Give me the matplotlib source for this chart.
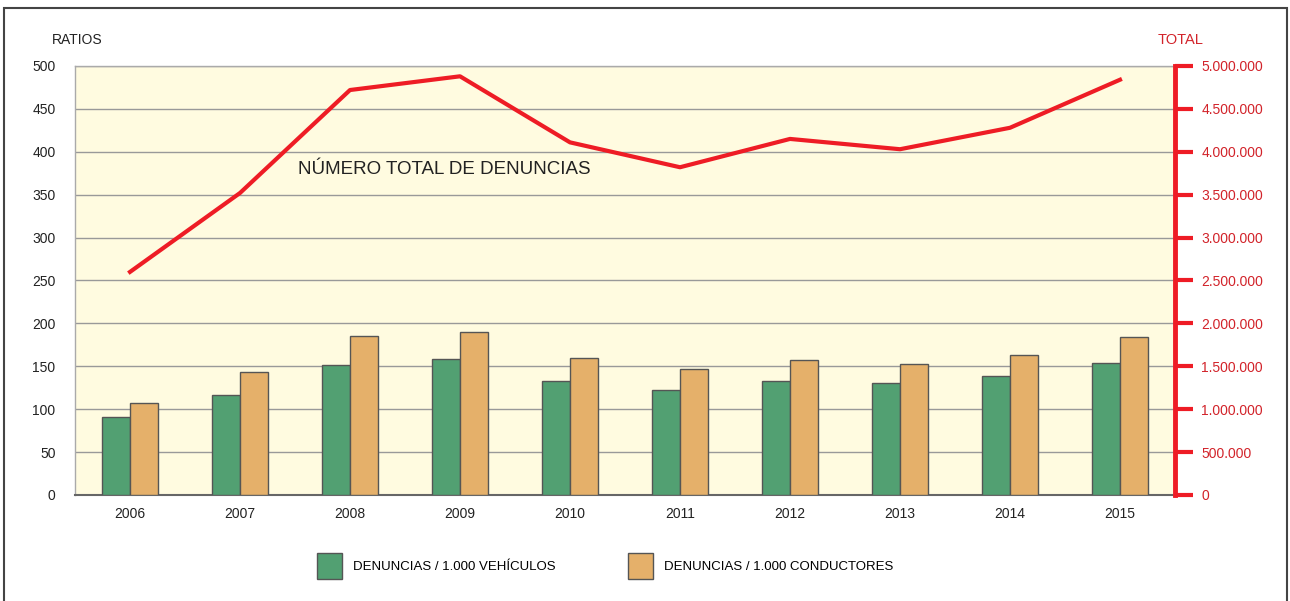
import matplotlib
matplotlib.use("Agg")
import matplotlib.pyplot as plt
import matplotlib.patches as mpatches
import numpy as np

plt.rcParams['font.family'] = ['Liberation Sans', 'DejaVu Sans']

years = ["2006", "2007", "2008", "2009", "2010", "2011", "2012", "2013", "2014", "2015"]
por_vehiculos = [91, 116, 152, 158, 133, 122, 133, 130, 139, 154]
por_conductores = [107, 143, 185, 190, 160, 147, 157, 153, 163, 184]
total_denuncias = [2600000, 3520000, 4720000, 4880000, 4110000, 3820000, 4150000, 4030000, 4280000, 4840000]

green = "#52A072"
orange = "#E5B06A"
red = "#EE1C25"
red_txt = "#D2232A"

fig = plt.figure(figsize=(12.9, 6.01), dpi=100)
# outer frame, open at the bottom edge
fig.patches.append(mpatches.Rectangle((4/1290, -0.05), 1283/1290, 0.05 + 593/601, transform=fig.transFigure,
                                      fill=False, edgecolor="#444444", linewidth=1.5))

ax = fig.add_axes([75/1290, 106/601, 1100/1290, 429/601])
ax.set_facecolor("#FFFBE0")
x = np.arange(len(years))
w = 0.255
ax.bar(x - w/2, por_vehiculos, w, color=green, edgecolor="#555555", linewidth=1, zorder=3)
ax.bar(x + w/2, por_conductores, w, color=orange, edgecolor="#555555", linewidth=1, zorder=3)
ax.set_xlim(-0.5, len(years) - 0.5)
ax.set_ylim(0, 500)
ax.set_yticks(range(0, 501, 50))
ax.set_xticks(x)
ax.set_xticklabels(years)
ax.grid(axis="y", color="#999999", linewidth=1, zorder=0)
ax.tick_params(axis="both", length=0, labelsize=10, colors="#222222")
ax.tick_params(axis="x", pad=9)
ax.tick_params(axis="y", pad=14)
for s in ["top", "left"]:
    ax.spines[s].set_color("#aaaaaa")
    ax.spines[s].set_linewidth(1)
ax.spines["right"].set_visible(False)
ax.spines["bottom"].set_color("#666666")
ax.spines["bottom"].set_linewidth(1.5)

ax2 = ax.twinx()
ax2.plot(x, total_denuncias, color=red, linewidth=3, zorder=4)
ax2.set_ylim(0, 5000000)
ax2.set_yticks(range(0, 5000001, 500000))
ax2.set_yticklabels(["0"] + [f"{v:,}".replace(",", ".") for v in range(500000, 5000001, 500000)])
for s in ["top", "left", "bottom"]:
    ax2.spines[s].set_visible(False)
ax2.spines["right"].set_color(red)
ax2.spines["right"].set_linewidth(3.5)
ax2.tick_params(axis="y", colors=red, direction="out", length=13, width=3, labelsize=10,
                labelcolor=red_txt, pad=6)

fig.text(298/1290, 1 - 170/601, "NÚMERO TOTAL DE DENUNCIAS",
         fontsize=13.5, color="#222222", ha="left", va="center")
fig.text(52/1290, 1 - 40/601, "RATIOS", fontsize=10, color="#222222", ha="left", va="center")
fig.text(1158/1290, 1 - 40/601, "TOTAL", fontsize=10.5, color=red_txt, ha="left", va="center")

handles = [mpatches.Patch(facecolor=green, edgecolor="#555555"),
           mpatches.Patch(facecolor=orange, edgecolor="#555555")]
labels = ["DENUNCIAS / 1.000 VEHÍCULOS", "DENUNCIAS / 1.000 CONDUCTORES"]
fig.legend(handles, labels, loc="center", bbox_to_anchor=(605/1290, 1 - 566/601), ncol=2,
           frameon=False, fontsize=9.5, handlelength=1.9, handleheight=2.6, columnspacing=5.5,
           handletextpad=0.8)

fig.savefig("out.png", dpi=100)
